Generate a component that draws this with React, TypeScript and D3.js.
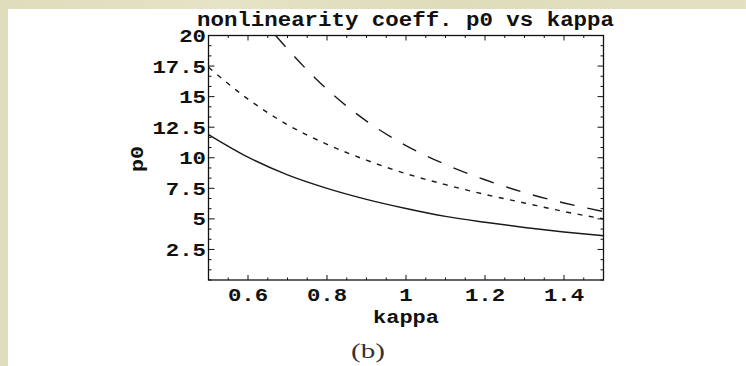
import React from "react";
import * as d3 from "d3";

const W = 746;
const H = 366;

// data
const kappa = [0.5, 0.6, 0.7, 0.8, 0.9, 1.0, 1.1, 1.2, 1.3, 1.4, 1.5];
const p0Solid = [11.9, 10.05, 8.6, 7.5, 6.6, 5.85, 5.2, 4.72, 4.3, 3.93, 3.62];
const p0Dotted = [17.4, 14.8, 12.7, 11.1, 9.8, 8.7, 7.8, 7.0, 6.3, 5.6, 5.0];
const kappaDashed = [0.67, 0.7, 0.8, 0.9, 1.0, 1.1, 1.2, 1.3, 1.4, 1.5];
const p0Dashed = [20.0, 18.9, 15.6, 13.0, 11.0, 9.45, 8.2, 7.15, 6.3, 5.6];

const xTickValues = [0.6, 0.8, 1.0, 1.2, 1.4];
const xTickLabels = ["0.6", "0.8", "1", "1.2", "1.4"];
const yTickValues = [2.5, 5, 7.5, 10, 12.5, 15, 17.5, 20];
const yTickLabels = ["2.5", "5", "7.5", "10", "12.5", "15", "17.5", "20"];

const titleText = "nonlinearity coeff. p0 vs kappa";
const xLabel = "kappa";
const yLabel = "p0";
const caption = "(b)";

const CHAR = 13.4;
const MONO = "'Liberation Mono', 'DejaVu Sans Mono', monospace";

export default function App() {
  const x = d3.scaleLinear().domain([0.5, 1.5]).range([208.5, 603.5]);
  const y = d3.scaleLinear().domain([0, 20]).range([280, 35.5]);

  const line = d3
    .line<[number, number]>()
    .x((d) => x(d[0]))
    .y((d) => y(d[1]))
    .curve(d3.curveMonotoneX);

  const solid = line(kappa.map((k, i) => [k, p0Solid[i]] as [number, number])) || "";
  const dotted = line(kappa.map((k, i) => [k, p0Dotted[i]] as [number, number])) || "";
  const dashed = line(kappaDashed.map((k, i) => [k, p0Dashed[i]] as [number, number])) || "";

  const xMinor = d3.range(0.5, 1.5001, 0.05);
  const yMinor = d3.range(0, 20.001, 2.5 / 3);
  const isMajorX = (v: number) => xTickValues.some((t) => Math.abs(t - v) < 1e-6);
  const isMajorY = (v: number) => yTickValues.some((t) => Math.abs(t - v) < 1e-6);

  const [x0, x1] = x.range();
  const [yb, yt] = y.range();
  const ink = "#111";

  return (
    <svg
      width={W}
      height={H}
      style={{ position: "absolute", left: 0, top: 0, display: "block" }}
    >
      <defs>
        <linearGradient id="bgGrad" x1="0" y1="0" x2="1" y2="0">
          <stop offset="0" stopColor="#e0ddbc" />
          <stop offset="0.3" stopColor="#e6e3c6" />
          <stop offset="0.6" stopColor="#dfdcbb" />
          <stop offset="1" stopColor="#e4e1c3" />
        </linearGradient>
        <clipPath id="plotClip">
          <rect x={x0} y={yt} width={x1 - x0} height={yb - yt} />
        </clipPath>
      </defs>
      <rect x={0} y={0} width={W} height={H} fill="url(#bgGrad)" />
      <rect x={8} y={9} width={W - 8} height={H - 9} fill="#ffffff" />

      {/* title */}
      <text
        x={405.5}
        y={26}
        textAnchor="middle"
        fontFamily={MONO}
        fontWeight="bold"
        fontSize={19.5}
        fill={ink}
        textLength={titleText.length * 13.45}
        lengthAdjust="spacingAndGlyphs"
      >
        {titleText}
      </text>

      {/* curves */}
      <g clipPath="url(#plotClip)" fill="none" stroke="#1a1a1a" strokeWidth={1.4}>
        <path d={solid} />
        <path d={dotted} strokeDasharray="5 6.5" />
        <path d={dashed} strokeDasharray="15 13" />
      </g>

      {/* frame */}
      <rect
        x={x0}
        y={yt}
        width={x1 - x0}
        height={yb - yt}
        fill="none"
        stroke={ink}
        strokeWidth={1.3}
      />

      {/* ticks on all four sides */}
      <g stroke={ink} strokeWidth={1}>
        {xMinor.map((v, i) => {
          const len = isMajorX(v) ? 5 : 2.5;
          const px = x(v);
          return (
            <g key={"xt" + i}>
              <line x1={px} x2={px} y1={yb} y2={yb - len} />
              <line x1={px} x2={px} y1={yt} y2={yt + len} />
            </g>
          );
        })}
        {yMinor.map((v, i) => {
          const len = isMajorY(v) ? 6 : 3;
          const py = y(v);
          return (
            <g key={"yt" + i}>
              <line x1={x0} x2={x0 + len} y1={py} y2={py} />
              <line x1={x1} x2={x1 - len} y1={py} y2={py} />
            </g>
          );
        })}
      </g>

      {/* x tick labels */}
      {xTickValues.map((v, i) => (
        <text
          key={"xl" + i}
          x={x(v)}
          y={300.5}
          textAnchor="middle"
          fontFamily={MONO}
          fontWeight="bold"
          fontSize={19}
          fill={ink}
          textLength={xTickLabels[i].length * CHAR}
          lengthAdjust="spacingAndGlyphs"
        >
          {xTickLabels[i]}
        </text>
      ))}

      {/* y tick labels */}
      {yTickValues.map((v, i) => (
        <text
          key={"yl" + i}
          x={206}
          y={y(v) + 6.5}
          textAnchor="end"
          fontFamily={MONO}
          fontWeight="bold"
          fontSize={19}
          fill={ink}
          textLength={yTickLabels[i].length * CHAR}
          lengthAdjust="spacingAndGlyphs"
        >
          {yTickLabels[i]}
        </text>
      ))}

      {/* axis labels */}
      <text
        x={406}
        y={323}
        textAnchor="middle"
        fontFamily={MONO}
        fontWeight="bold"
        fontSize={19}
        fill={ink}
        textLength={xLabel.length * 13.2}
        lengthAdjust="spacingAndGlyphs"
      >
        {xLabel}
      </text>
      <text
        transform={`translate(143,159) rotate(-90)`}
        textAnchor="middle"
        fontFamily={MONO}
        fontWeight="bold"
        fontSize={19}
        fill={ink}
        textLength={26}
        lengthAdjust="spacingAndGlyphs"
      >
        {yLabel}
      </text>

      {/* caption */}
      <text
        x={368}
        y={358}
        textAnchor="middle"
        fontFamily="'Liberation Serif', 'DejaVu Serif', serif"
        fontSize={20}
        fill="#333"
        textLength={34}
        lengthAdjust="spacingAndGlyphs"
      >
        {caption}
      </text>
    </svg>
  );
}
